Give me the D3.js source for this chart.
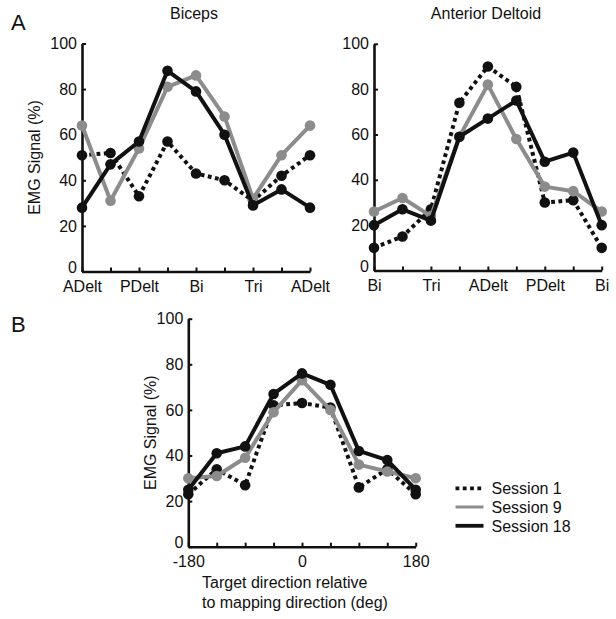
<!DOCTYPE html>
<html>
<head>
<meta charset="utf-8">
<script src="https://cdn.jsdelivr.net/npm/d3@7"></script>
<style>
  body { margin: 0; background: #fff; }
  svg { display: block; font-family: "Liberation Sans", Arial, Helvetica, sans-serif; }
  .axis path, .axis line { stroke: #111; }
  .axis text { font-size: 16px; fill: #111; }
</style>
</head>
<body>
<svg id="chart" width="616" height="619"></svg>
<script>
// ---------- data ----------
const sessions = ["Session 1", "Session 9", "Session 18"];

const bicepsTickLabels = ["ADelt", "", "PDelt", "", "Bi", "", "Tri", "", "ADelt"];
const bicepsS1  = [51, 52, 33, 57, 43, 40, 31, 42, 51];
const bicepsS9  = [64, 31, 54, 81, 86, 68, 32, 51, 64];
const bicepsS18 = [28, 47, 57, 88, 79, 60, 29, 36, 28];

const deltoidTickLabels = ["Bi", "", "Tri", "", "ADelt", "", "PDelt", "", "Bi"];
const deltoidS1  = [10, 15, 27, 74, 90, 81, 30, 31, 10];
const deltoidS9  = [26, 32, 24, 59, 82, 58, 37, 35, 26];
const deltoidS18 = [20, 27, 22, 59, 67, 75, 48, 52, 20];

const directions = [-180, -135, -90, -45, 0, 45, 90, 135, 180];
const directionTickLabels = ["-180", "", "", "", "0", "", "", "", "180"];
const dirS1  = [23, 34, 27, 62, 63, 61, 26, 34, 23];
const dirS9  = [30, 31, 39, 59, 73, 60, 36, 33, 30];
const dirS18 = [25, 41, 44, 67, 76, 71, 42, 38, 25];

const yTicks = [0, 20, 40, 60, 80, 100];

// ---------- styles ----------
const styles = {
  "Session 1":  { color: "#111", width: 4, dash: "3.8,3.5", markerColor: "#111" },
  "Session 9":  { color: "#8c8c8c", width: 4, dash: null, markerColor: "#8c8c8c" },
  "Session 18": { color: "#111", width: 4, dash: null, markerColor: "#111" }
};

const svg = d3.select("#chart");

function panel(opts) {
  const g = svg.append("g");
  const x = d3.scaleLinear().domain(opts.xDomain).range([opts.x0, opts.x1]);
  const y = d3.scaleLinear().domain([0, 100]).range([opts.y0, opts.y1]);

  const xAxis = d3.axisBottom(x)
    .tickValues(opts.xValues)
    .tickFormat((d, i) => opts.xLabels[i])
    .tickSizeInner(-4).tickSizeOuter(0).tickPadding(9);
  const yAxis = d3.axisLeft(y)
    .tickValues(yTicks)
    .tickFormat(d3.format("d"))
    .tickSizeInner(-4).tickSizeOuter(0).tickPadding(5);

  const gx = g.append("g").attr("class", "axis")
    .attr("transform", `translate(0,${opts.y0})`).call(xAxis);
  const gy = g.append("g").attr("class", "axis")
    .attr("transform", `translate(${opts.x0},0)`).call(yAxis);
  [gx, gy].forEach(a => {
    a.select(".domain").attr("stroke-width", 2.6);
    a.selectAll(".tick line").attr("stroke-width", 2);
  });
  // the "0" label sits slightly raised, as in the reference
  gy.selectAll(".tick text").filter(d => d === 0).attr("dy", "0.08em");

  const series = [opts.s1, opts.s9, opts.s18];
  series.forEach((vals, si) => {
    const st = styles[sessions[si]];
    const pts = vals.map((v, i) => [x(opts.xValues[i]), y(v)]);
    g.append("path")
      .attr("d", d3.line()(pts))
      .attr("fill", "none")
      .attr("stroke", st.color)
      .attr("stroke-width", st.width)
      .attr("stroke-linejoin", "round")
      .attr("stroke-dasharray", st.dash);
    g.selectAll(null).data(pts).enter().append("circle")
      .attr("cx", d => d[0]).attr("cy", d => d[1])
      .attr("r", 5.3).attr("fill", st.markerColor);
  });

  if (opts.title) {
    g.append("text").attr("x", opts.titleX).attr("y", 19)
      .attr("text-anchor", "middle").attr("font-size", 16).attr("fill", "#111")
      .text(opts.title);
  }
  if (opts.yLabel) {
    g.append("text")
      .attr("transform", `translate(${opts.yLabelX},${(opts.y0 + opts.y1) / 2}) rotate(-90)`)
      .attr("text-anchor", "middle").attr("dominant-baseline", "central")
      .attr("font-size", 16).attr("fill", "#111")
      .text(opts.yLabel);
  }
  return { x, y };
}

const idx = d3.range(9);

panel({
  xDomain: [0, 8], xValues: idx, xLabels: bicepsTickLabels,
  x0: 82, x1: 310, y0: 271.5, y1: 43.5,
  s1: bicepsS1, s9: bicepsS9, s18: bicepsS18,
  title: "Biceps", titleX: 194, yLabel: "EMG Signal (%)", yLabelX: 34
});

panel({
  xDomain: [0, 8], xValues: idx, xLabels: deltoidTickLabels,
  x0: 374, x1: 601.7, y0: 270.5, y1: 43.8,
  s1: deltoidS1, s9: deltoidS9, s18: deltoidS18,
  title: "Anterior Deltoid", titleX: 486
});

panel({
  xDomain: [-180, 180], xValues: directions, xLabels: directionTickLabels,
  x0: 188.3, x1: 415.7, y0: 546.7, y1: 318.7,
  s1: dirS1, s9: dirS9, s18: dirS18,
  yLabel: "EMG Signal (%)", yLabelX: 150
});

// x label of panel B
const xl = svg.append("text").attr("font-size", 16).attr("fill", "#111");
xl.append("tspan").attr("x", 202).attr("y", 588).text("Target direction relative");
xl.append("tspan").attr("x", 202).attr("y", 608).text("to mapping direction (deg)");

// panel letters
svg.append("text").attr("x", 11).attr("y", 29.5).attr("font-size", 22).attr("fill", "#111").text("A");
svg.append("text").attr("x", 11).attr("y", 332).attr("font-size", 22).attr("fill", "#111").text("B");

// legend
const legRows = [488.3, 507, 525.8];
sessions.forEach((s, i) => {
  const st = styles[s];
  svg.append("line")
    .attr("x1", 455.5).attr("x2", 483.5)
    .attr("y1", legRows[i]).attr("y2", legRows[i])
    .attr("stroke", st.color)
    .attr("stroke-width", s === "Session 9" ? 3 : 3.8)
    .attr("stroke-dasharray", st.dash);
  svg.append("text").attr("x", 491.5).attr("y", legRows[i] + 5.8)
    .attr("font-size", 16).attr("fill", "#111").text(s);
});
</script>
</body>
</html>
